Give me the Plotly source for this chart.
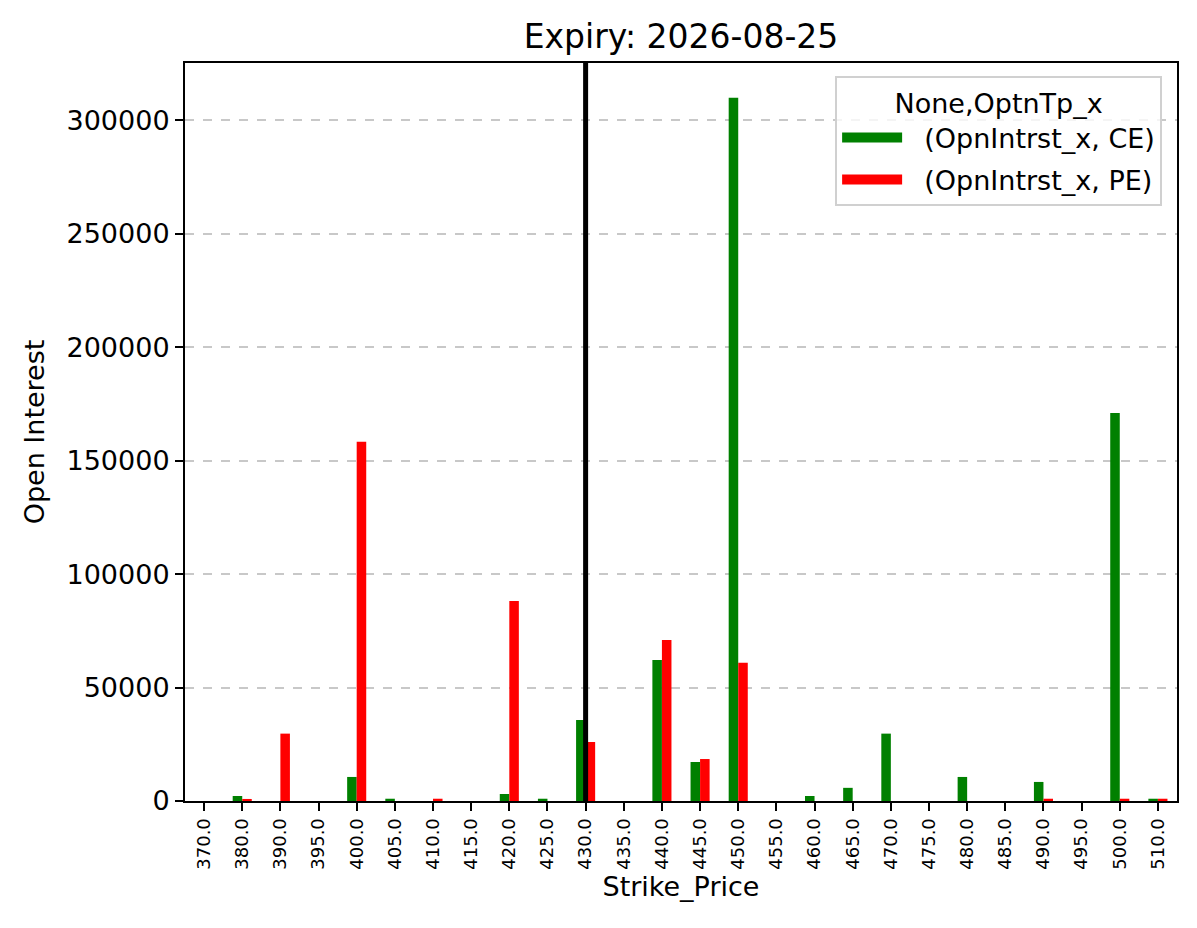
import plotly.graph_objects as go

strikes = ["370.0", "380.0", "390.0", "395.0", "400.0", "405.0", "410.0", "415.0", "420.0",
           "425.0", "430.0", "435.0", "440.0", "445.0", "450.0", "455.0", "460.0", "465.0",
           "470.0", "475.0", "480.0", "485.0", "490.0", "495.0", "500.0", "510.0"]
ce_oi = [0, 2200, 0, 0, 10600, 1000, 0, 0, 3100, 1000, 35700, 0, 62200, 17200, 310000, 0,
         2200, 5800, 29700, 0, 10600, 0, 8400, 0, 171000, 1000]
pe_oi = [0, 900, 29700, 0, 158300, 0, 1000, 0, 88200, 0, 26000, 0, 71000, 18500, 60900, 0,
         0, 0, 0, 0, 0, 0, 1000, 0, 1000, 1000]
spot_strike = "430.0"
y_ticks = [0, 50000, 100000, 150000, 200000, 250000, 300000]
series = [("(OpnIntrst_x, CE)", ce_oi, "green"), ("(OpnIntrst_x, PE)", pe_oi, "red")]

font = "DejaVu Sans, Liberation Sans, sans-serif"

fig = go.Figure()
for name, vals, color in series:
    fig.add_trace(go.Bar(x=strikes, y=vals, name=name, marker_color=color,
                         marker_line_width=0, showlegend=False, legendgroup=name))
# legend entries drawn as wide patches
for name, vals, color in series:
    fig.add_trace(go.Scatter(x=[None], y=[None], mode="lines", name="  " + name,
                             line=dict(color=color, width=20), legendgroup=name,
                             showlegend=True))

xi = strikes.index(spot_strike)
fig.add_shape(type="line", xref="x", yref="paper", x0=xi, x1=xi, y0=0, y1=1,
              line=dict(color="black", width=5), layer="above")

fig.update_layout(
    width=1197, height=928,
    margin=dict(l=185, r=20, t=63, b=127),
    paper_bgcolor="white", plot_bgcolor="white",
    barmode="group", bargap=0.5, bargroupgap=0,
    font=dict(family=font, size=27, color="black"),
    title=dict(text="Expiry: 2026-08-25", x=(185 + 1177) / 2 / 1197, xanchor="center",
               y=1 - 36 / 928, yanchor="middle", font=dict(size=33, color="black")),
    showlegend=True,
    legend=dict(
        title=dict(text="None,OptnTp_x", side="top center", font=dict(size=27)),
        x=0.985, xanchor="right", y=0.982, yanchor="top",
        bgcolor="rgba(255,255,255,0.8)", bordercolor="#d0d0d0", borderwidth=2,
        font=dict(size=27), itemwidth=60, tracegroupgap=4,
    ),
)
fig.update_xaxes(
    type="category", range=[-0.5, len(strikes) - 0.5],
    showline=True, linecolor="black", linewidth=2, mirror=True,
    ticks="outside", ticklen=8, tickwidth=2, tickcolor="black",
    tickangle=-90, tickfont=dict(size=18),
    showgrid=False,
    title=dict(text="Strike_Price", font=dict(size=27), standoff=8),
)
fig.update_yaxes(
    range=[0, 325300],
    tickvals=y_ticks, ticktext=[str(v) for v in y_ticks],
    showline=True, linecolor="black", linewidth=2, mirror=True,
    ticks="outside", ticklen=8, tickwidth=2, tickcolor="black",
    tickfont=dict(size=27),
    showgrid=True, gridcolor="#c8c8c8", griddash="dash", gridwidth=1.5,
    zeroline=False,
    title=dict(text="Open Interest", font=dict(size=27), standoff=14),
)

fig.write_html("out.html")
